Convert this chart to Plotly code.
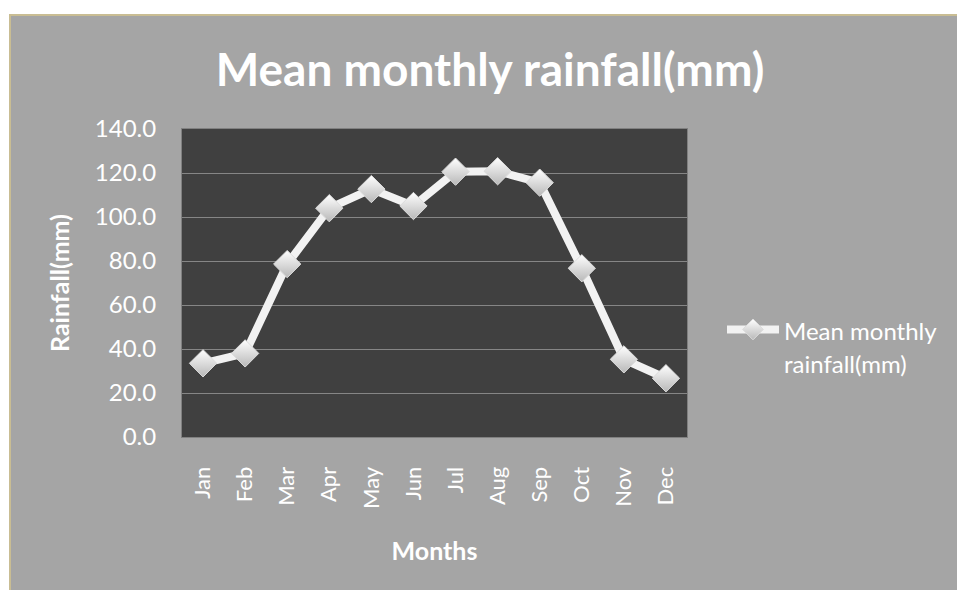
import plotly.graph_objects as go

months = ["Jan", "Feb", "Mar", "Apr", "May", "Jun", "Jul", "Aug", "Sep", "Oct", "Nov", "Dec"]
rainfall = [33.5, 38.0, 78.6, 104.0, 112.7, 105.0, 120.6, 120.8, 115.6, 76.7, 35.3, 26.7]
y_ticks = [0, 20, 40, 60, 80, 100, 120, 140]

W, H = 957, 590
L, R, T, B = 182, 270, 129, 153
pw, ph = W - L - R, H - T - B

def px_x(x):  # screen x -> paper x
    return (x - L) / pw

def px_y(y):  # screen y -> paper y
    return (H - B - y) / ph

FONT = "Lato"
GRAY = "#a5a5a5"
TAN = "#c9bd93"

fig = go.Figure()
fig.add_trace(go.Scatter(
    x=months, y=rainfall, mode="lines+markers",
    name='<span style="font-size:24px">Mean monthly<br>rainfall(mm)</span>',
    line=dict(color="#f2f2f2", width=8),
    marker=dict(symbol="diamond", size=21, color="#ffffff",
                gradient=dict(type="vertical", color="#b8b8b8"),
                line=dict(color="#dcdcdc", width=1)),
))

shapes = [
    dict(type="rect", xref="paper", yref="paper", x0=px_x(-10), x1=px_x(W + 20),
         y0=px_y(-10), y1=px_y(14), fillcolor="white", line=dict(width=0), layer="above"),
    dict(type="rect", xref="paper", yref="paper", x0=px_x(-10), x1=px_x(9),
         y0=px_y(-10), y1=px_y(H + 20), fillcolor="white", line=dict(width=0), layer="above"),
    dict(type="line", xref="paper", yref="paper", x0=px_x(9), x1=px_x(W + 20),
         y0=px_y(15), y1=px_y(15), line=dict(color=TAN, width=2), layer="above"),
    dict(type="line", xref="paper", yref="paper", x0=px_x(10), x1=px_x(10),
         y0=px_y(14), y1=px_y(H + 20), line=dict(color=TAN, width=2), layer="above"),
]

fig.update_layout(
    width=W, height=H,
    margin=dict(l=L, r=R, t=T, b=B, autoexpand=False),
    paper_bgcolor=GRAY, plot_bgcolor="#404040",
    font=dict(family=FONT, color="white"),
    title=dict(text="<b>Mean monthly rainfall(mm)</b>", x=490 / W, xanchor="center",
               y=1 - 70 / H, yanchor="middle", font=dict(size=46, family=FONT, color="white")),
    showlegend=True,
    legend=dict(x=px_x(722), y=px_y(306), xanchor="left", yanchor="top",
                bgcolor="rgba(0,0,0,0)", font=dict(size=26, color="white", family=FONT),
                valign="top", itemwidth=52),
    shapes=shapes,
    xaxis=dict(
        type="category", categoryorder="array", categoryarray=months,
        range=[-0.5, 11.5], tickangle=-90,
        tickfont=dict(size=22, color="white", family=FONT),
        showgrid=False, showline=True, linecolor="#808080", linewidth=1, mirror=True,
        ticks="", ticklabelstandoff=20,
        title=dict(text="<b>Months</b>", font=dict(size=25, color="white", family=FONT), standoff=34),
    ),
    yaxis=dict(
        range=[0, 140], tickvals=y_ticks, tickformat=".1f",
        tickfont=dict(size=24, color="white", family=FONT),
        showgrid=True, gridcolor="#868686", gridwidth=1, zeroline=False,
        showline=True, linecolor="#808080", linewidth=1, mirror=True,
        ticks="", ticklabelstandoff=20,
        title=dict(text="<b>Rainfall(mm)</b>", font=dict(size=25, color="white", family=FONT), standoff=18),
    ),
)

fig.write_html(
    "out.html",
    config={"displayModeBar": False},
    post_script="document.body.style.margin='0';document.body.style.overflow='hidden';",
)
